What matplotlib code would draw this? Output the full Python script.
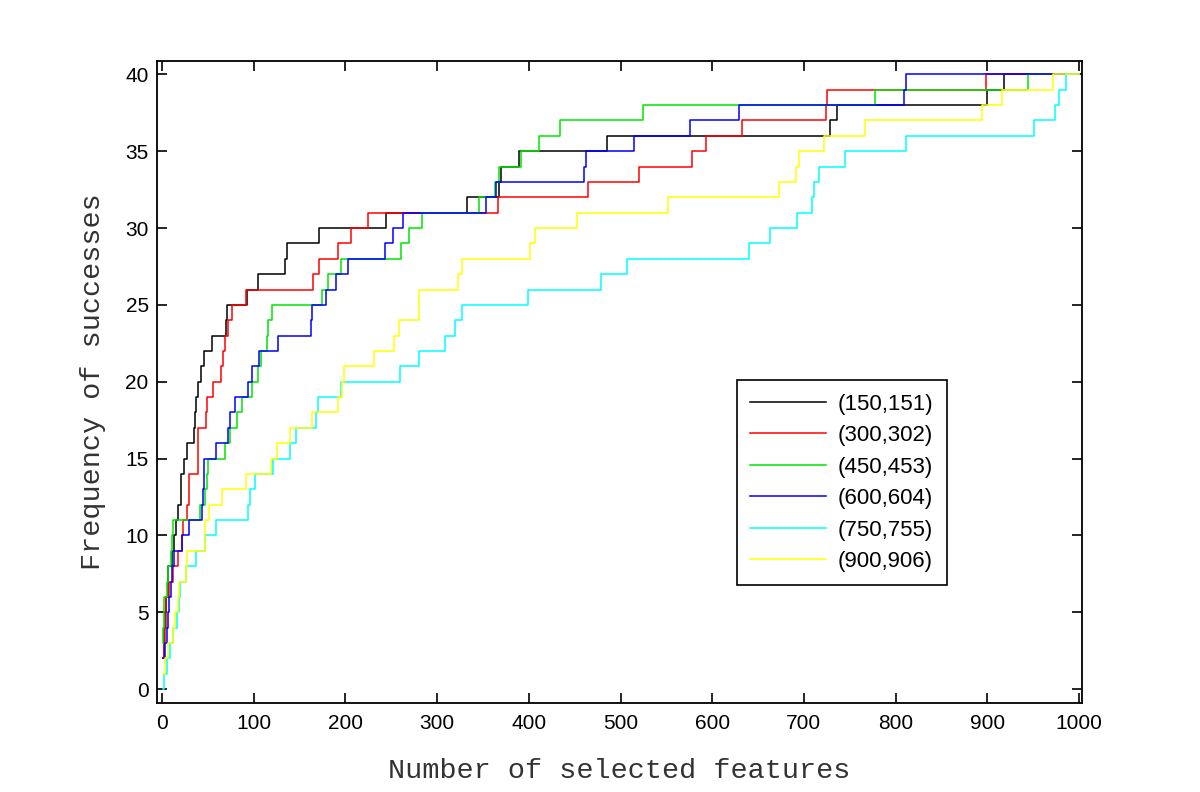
import matplotlib
matplotlib.use("Agg")
import matplotlib.pyplot as plt
import numpy as np

# ---- data: x positions (number of selected features) where the success count steps up ----
labels = ["(150,151)", "(300,302)", "(450,453)", "(600,604)", "(750,755)", "(900,906)"]
colors = ["#000000", "#ff0000", "#00e600", "#0000ff", "#00ffff", "#ffff00"]

black_x = [1, 2, 2.5, 3, 4.5, 6, 7, 11, 13, 15.7, 17, 20.6, 21, 24.2, 26.7, 35.1, 36, 37.5, 38.7, 43,
           45.5, 54.6, 70, 71.2, 92.5, 104.4, 134.5, 136, 171, 244, 333, 368, 370, 389, 485, 728, 736,
           900, 918, 1000]
black_y = [2, 3, 4, 5, 6, 7, 8, 9, 10, 11, 12, 13, 14, 15, 16, 17, 18, 19, 20, 21,
           22, 23, 24, 25, 26, 27, 28, 29, 30, 31, 32, 33, 34, 35, 36, 37, 38,
           39, 40, 40]

red_x = [1, 2, 3, 4, 4.5, 8, 12, 17, 21.5, 22.5, 26.7, 29.5, 29.8, 38.7, 38.9, 39.1, 48.4, 48.6, 56, 64.7,
         66.5, 68.3, 71.9, 76.6, 91.8, 165, 171, 192, 205.6, 224.4, 366, 465, 520, 577.5, 593.5, 632.7,
         724.5, 725.5, 898.6, 1000]
red_y = [2, 3, 4, 5, 6, 7, 8, 9, 10, 11, 12, 13, 14, 15, 16, 17, 18, 19, 20, 21,
         22, 23, 24, 25, 26, 27, 28, 29, 30, 31, 32, 33, 34, 35, 36, 37,
         38, 39, 40, 40]

green_x = [1, 1.5, 2, 2.5, 5, 6.1, 9.8, 10.5, 12, 41.2, 47, 49, 49.7, 68.3, 73.7, 82, 87, 98.5, 104.4,
           108, 114, 116, 119.6, 174.9, 181, 195.4, 261, 268.8, 283.3, 345.2, 362.6, 367.5, 391, 411.1,
           434.2, 524.3, 777.6, 944.6, 1000]
green_y = [3, 4, 5, 6, 7, 8, 9, 10, 11, 12, 13, 14, 15, 16, 17, 18, 19, 20, 21,
           22, 23, 24, 25, 26, 27, 28, 29, 30, 31, 32, 33, 34, 35, 36,
           37, 38, 39, 40, 40]

blue_x = [1, 3, 5, 6.5, 8, 9.5, 11, 13, 22, 29.6, 44, 45, 45.5, 46, 59.3, 71.9, 73.7, 79.1, 93.6, 98.3,
          106.2, 126, 162.3, 163.3, 178.5, 189.3, 202.7, 243.6, 251.5, 262.8, 353.8, 364.6, 460.7, 462,
          514.5, 575.9, 629, 809, 811.6, 1000]
blue_y = [2, 3, 4, 5, 6, 7, 8, 9, 10, 11, 12, 13, 14, 15, 16, 17, 18, 19, 20, 21,
          22, 23, 24, 25, 26, 27, 28, 29, 30, 31, 32, 33, 34, 35,
          36, 37, 38, 39, 40, 40]

cyan_x = [1, 2.5, 5, 8.7, 12.3, 15.9, 19, 19.5, 26.5, 36.8, 46.6, 59.3, 93.6, 95.4, 101.6, 120.7, 140,
          146, 167.6, 170.5, 195, 259.8, 279.7, 308.6, 319.4, 326.7, 399, 478.4, 506.6, 640, 662.8,
          692.7, 709, 711, 717, 744.8, 811.6, 950.8, 974.3, 978.7, 986, 1000]
cyan_y = [0, 1, 2, 3, 4, 5, 6, 7, 8, 9, 10, 11, 12, 13, 14, 15, 16,
          17, 18, 19, 20, 21, 22, 23, 24, 25, 26, 27, 28, 29, 30,
          31, 32, 33, 34, 35, 36, 37, 38, 39, 40, 40]

yellow_x = [1, 3.3, 6.9, 12.3, 14.1, 17, 18, 26, 27, 46.6, 47, 50.9, 65.4, 91.8, 118.9, 125.4, 139.9,
            163.3, 191.9, 196.6, 198.4, 231.6, 252.6, 258.3, 279.7, 280.5, 323, 327.4, 401.8, 406.9,
            453, 551.8, 672.8, 691.6, 694.5, 722.3, 766.5, 894.6, 916.4, 971.7, 1000]
yellow_y = [1, 2, 3, 4, 5, 6, 7, 8, 9, 10, 11, 12, 13, 14, 15, 16, 17,
            18, 19, 20, 21, 22, 23, 24, 25, 26, 27, 28, 29, 30,
            31, 32, 33, 34, 35, 36, 37, 38, 39, 40, 40]

x_ticks = [0, 100, 200, 300, 400, 500, 600, 700, 800, 900, 1000]
y_ticks = [0, 5, 10, 15, 20, 25, 30, 35, 40]

series_x = [black_x, red_x, green_x, blue_x, cyan_x, yellow_x]
series_y = [black_y, red_y, green_y, blue_y, cyan_y, yellow_y]

# ---- figure ----
fig = plt.figure(figsize=(12, 7.92), dpi=100)
ax = fig.add_axes([157 / 1200, 89 / 792, 925 / 1200, 642.5 / 792])

for xs, ys, c, lab in zip(series_x, series_y, colors, labels):
    ax.step(xs, ys, where="post", color=c, lw=1.1, label=lab)

ax.set_xlim(-5.5, 1003.3)
ax.set_ylim(-0.9, 40.9)
ax.set_xticks(x_ticks)
ax.set_yticks(y_ticks)

tick_font = {"family": "Liberation Sans", "size": 15}
ax.set_xticklabels([str(v) for v in x_ticks], fontdict=tick_font)
ax.set_yticklabels([str(v) for v in y_ticks], fontdict=tick_font)
ax.tick_params(axis="both", direction="in", length=7, width=1.2, top=True, right=True, colors="#000000")
ax.tick_params(axis="x", pad=8)
ax.tick_params(axis="y", pad=6)
for s in ax.spines.values():
    s.set_linewidth(1.3)

lab_font = {"family": "Liberation Mono", "size": 20.5, "color": "#333333"}
ax.set_xlabel("Number of selected features", fontdict=lab_font, labelpad=18)
ax.set_ylabel("Frequency of successes", fontdict=lab_font, labelpad=14)

leg = ax.legend(loc="upper left", bbox_to_anchor=(0.627, 0.502), prop={"family": "Liberation Sans", "size": 16},
                frameon=True, fancybox=False, shadow=False, handlelength=3.4, handletextpad=0.55,
                labelspacing=0.47, borderpad=0.6, borderaxespad=0)
leg.get_frame().set_edgecolor("#000000")
leg.get_frame().set_linewidth(1.2)
leg.get_frame().set_alpha(1)

fig.savefig("out.png", dpi=100)
